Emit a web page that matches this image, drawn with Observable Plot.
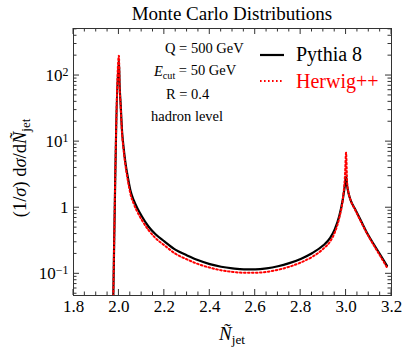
<!DOCTYPE html>
<html><head><meta charset="utf-8">
<script src="https://cdn.jsdelivr.net/npm/d3@7"></script>
<script src="https://cdn.jsdelivr.net/npm/@observablehq/plot@0.6"></script>
<style>body{margin:0;background:#fff} #chart{width:407px;height:350px}</style>
</head><body><div id="chart"></div>
<script>
// ---- data ----
const seriesNames = ["Pythia 8", "Herwig++"];
const pythiaX = [1.975,2.0,2.003,2.007,2.014,2.02,2.029,2.04,2.051,2.065,2.08,2.1,2.13,2.16,2.2,2.25,2.3,2.35,2.4,2.45,2.5,2.55,2.6,2.65,2.7,2.75,2.8,2.85,2.9,2.93,2.95,2.97,2.985,2.995,3.0,3.005,3.01,3.02,3.04,3.064,3.09,3.122,3.15,3.18];
const pythiaY = [0.04,170,70,40,14,8.5,4.7,2.8,1.8,1.3,1.0,0.75,0.52,0.4,0.31,0.23,0.19,0.16,0.14,0.128,0.121,0.117,0.117,0.121,0.13,0.145,0.168,0.205,0.27,0.35,0.47,0.75,1.3,2.2,2.95,2.1,1.7,1.3,0.95,0.65,0.43,0.28,0.196,0.132];
const herwigX = [1.975,2.0,2.003,2.007,2.014,2.02,2.029,2.04,2.051,2.065,2.08,2.1,2.13,2.16,2.2,2.25,2.3,2.35,2.4,2.45,2.5,2.55,2.6,2.65,2.7,2.75,2.8,2.85,2.9,2.93,2.95,2.97,2.985,2.995,3.0,3.005,3.01,3.02,3.04,3.064,3.09,3.122,3.15,3.18];
const herwigY = [0.04,200,70,38,13,7.8,4.3,2.5,1.6,1.15,0.88,0.66,0.46,0.35,0.27,0.2,0.165,0.14,0.124,0.113,0.107,0.104,0.104,0.107,0.115,0.128,0.148,0.18,0.24,0.31,0.42,0.7,1.3,3.0,6.8,2.3,1.75,1.3,0.93,0.63,0.42,0.27,0.187,0.125];
const xMajorTicks = [1.8,2.0,2.2,2.4,2.6,2.8,3.0,3.2];
const xMinorTicks = [1.85,1.9,1.95,2.05,2.1,2.15,2.25,2.3,2.35,2.45,2.5,2.55,2.65,2.7,2.75,2.85,2.9,2.95,3.05,3.1,3.15];
const yMajorTicks = [0.1,1,10,100];
const yTickLabels = ["10^−1","1","10^1","10^2"];
const yMinorTicks = [0.05,0.06,0.07,0.08,0.09,0.2,0.3,0.4,0.5,0.6,0.7,0.8,0.9,2,3,4,5,6,7,8,9,20,30,40,50,60,70,80,90,200,300,400,500];

const pythia = pythiaX.map((x,i)=>({x, y: pythiaY[i]}));
const herwig = herwigX.map((x,i)=>({x, y: herwigY[i]}));

const serif = "'Liberation Serif', 'Times New Roman', serif";
const tickColor = "#333";

const plot = Plot.plot({
  width: 407, height: 350,
  marginLeft: 73, marginRight: 16, marginTop: 28, marginBottom: 55,
  style: {fontFamily: serif, fontSize: "17px", color: "#000", background: "#fff"},
  x: {domain: [1.8, 3.2]},
  y: {type: "log", domain: [0.047, 515]},
  marks: [
    Plot.axisX({anchor: "bottom", ticks: xMajorTicks, tickFormat: d3.format(".1f"), tickSize: 0, tickPadding: 4, label: null, fontFamily: serif}),
    Plot.axisY({anchor: "left", ticks: yMajorTicks, tickFormat: (d) => yTickLabels[yMajorTicks.indexOf(d)], tickSize: 0, tickPadding: 5, label: null, fontFamily: serif}),
    Plot.line(pythia, {x: "x", y: "y", stroke: "#000", strokeWidth: 2.2, curve: "monotone-x", clip: true}),
    Plot.line(herwig, {x: "x", y: "y", stroke: "#ff0000", strokeWidth: 2, strokeDasharray: "1.6,2.4", curve: "monotone-x", clip: true}),
    Plot.frame({stroke: tickColor, strokeWidth: 1})
  ]
});

document.getElementById("chart").appendChild(plot);
const svg = d3.select(plot);
const sx = plot.scale("x"), sy = plot.scale("y");
const [xl, xr] = sx.range, [yb, yt] = sy.range;

// inside ticks on all four sides, placed with the plot's own scales
const tg = svg.append("g").attr("stroke", tickColor).attr("stroke-width", 1);
function xt(vals, len) {
  for (const v of vals) {
    const px = sx.apply(v);
    tg.append("line").attr("x1", px).attr("x2", px).attr("y1", yb).attr("y2", yb - len);
    tg.append("line").attr("x1", px).attr("x2", px).attr("y1", yt).attr("y2", yt + len);
  }
}
function yt_(vals, len) {
  for (const v of vals) {
    const py = sy.apply(v);
    tg.append("line").attr("y1", py).attr("y2", py).attr("x1", xl).attr("x2", xl + len);
    tg.append("line").attr("y1", py).attr("y2", py).attr("x1", xr).attr("x2", xr - len);
  }
}
xt(xMajorTicks, 6); xt(xMinorTicks, 3.5);
yt_(yMajorTicks, 6); yt_(yMinorTicks, 3.5);

// superscript exponents for the y tick labels
svg.selectAll('g[aria-label="y-axis tick label"] text').each(function() {
  const t = this.textContent;
  if (t.includes("^")) {
    const [base, exp] = t.split("^");
    const sel = d3.select(this);
    sel.text(null);
    sel.append("tspan").text(base);
    sel.append("tspan").attr("dy", "-0.45em").attr("font-size", "70%").text(exp);
  }
});

function rich(x, y, parts, opts = {}) {
  const t = svg.append("text").attr("x", x).attr("y", y)
    .attr("font-family", serif).attr("font-size", opts.size || 14.5)
    .attr("fill", opts.fill || "#000").attr("text-anchor", opts.anchor || "start");
  if (opts.transform) t.attr("transform", opts.transform).attr("x", 0).attr("y", 0);
  let shift = 0;
  for (const p of parts) {
    const s = t.append("tspan").text(p.t);
    if (p.i) s.attr("font-style", "italic");
    if (p.sub) { s.attr("font-size", "70%").attr("dy", "0.28em"); shift = 1; }
    else if (shift) { s.attr("dy", "-0.28em"); shift = 0; }
  }
  return t;
}

// title
rich(232, 19.5, [{t: "Monte Carlo Distributions"}], {size: 19, anchor: "middle"});
// axis labels
rich(0, 0, [{t: "Ñ", i: 1}, {t: "jet", sub: 1}], {size: 19, anchor: "middle", transform: "translate(232,340)"});
rich(0, 0, [{t: "(1/"}, {t: "σ", i: 1}, {t: ") d"}, {t: "σ", i: 1}, {t: "/d"}, {t: "Ñ", i: 1}, {t: "jet", sub: 1}],
  {size: 18.5, anchor: "middle", transform: "translate(26,168) rotate(-90)"});
// annotations
rich(165, 53, [{t: "Q = 500 GeV"}]);
rich(154, 76, [{t: "E", i: 1}, {t: "cut", sub: 1}, {t: " = 50 GeV"}]);
rich(166, 98.5, [{t: "R = 0.4"}]);
rich(151, 121, [{t: "hadron level"}]);
// legend
svg.append("line").attr("x1", 260).attr("x2", 284).attr("y1", 55).attr("y2", 55)
  .attr("stroke", "#000").attr("stroke-width", 2.2);
svg.append("line").attr("x1", 260).attr("x2", 284).attr("y1", 81).attr("y2", 81)
  .attr("stroke", "#ff0000").attr("stroke-width", 2).attr("stroke-dasharray", "1.6,2.4");
rich(296, 61, [{t: seriesNames[0]}], {size: 20});
rich(296, 87.5, [{t: seriesNames[1]}], {size: 20, fill: "#ff0000"});
</script>
</body></html>
